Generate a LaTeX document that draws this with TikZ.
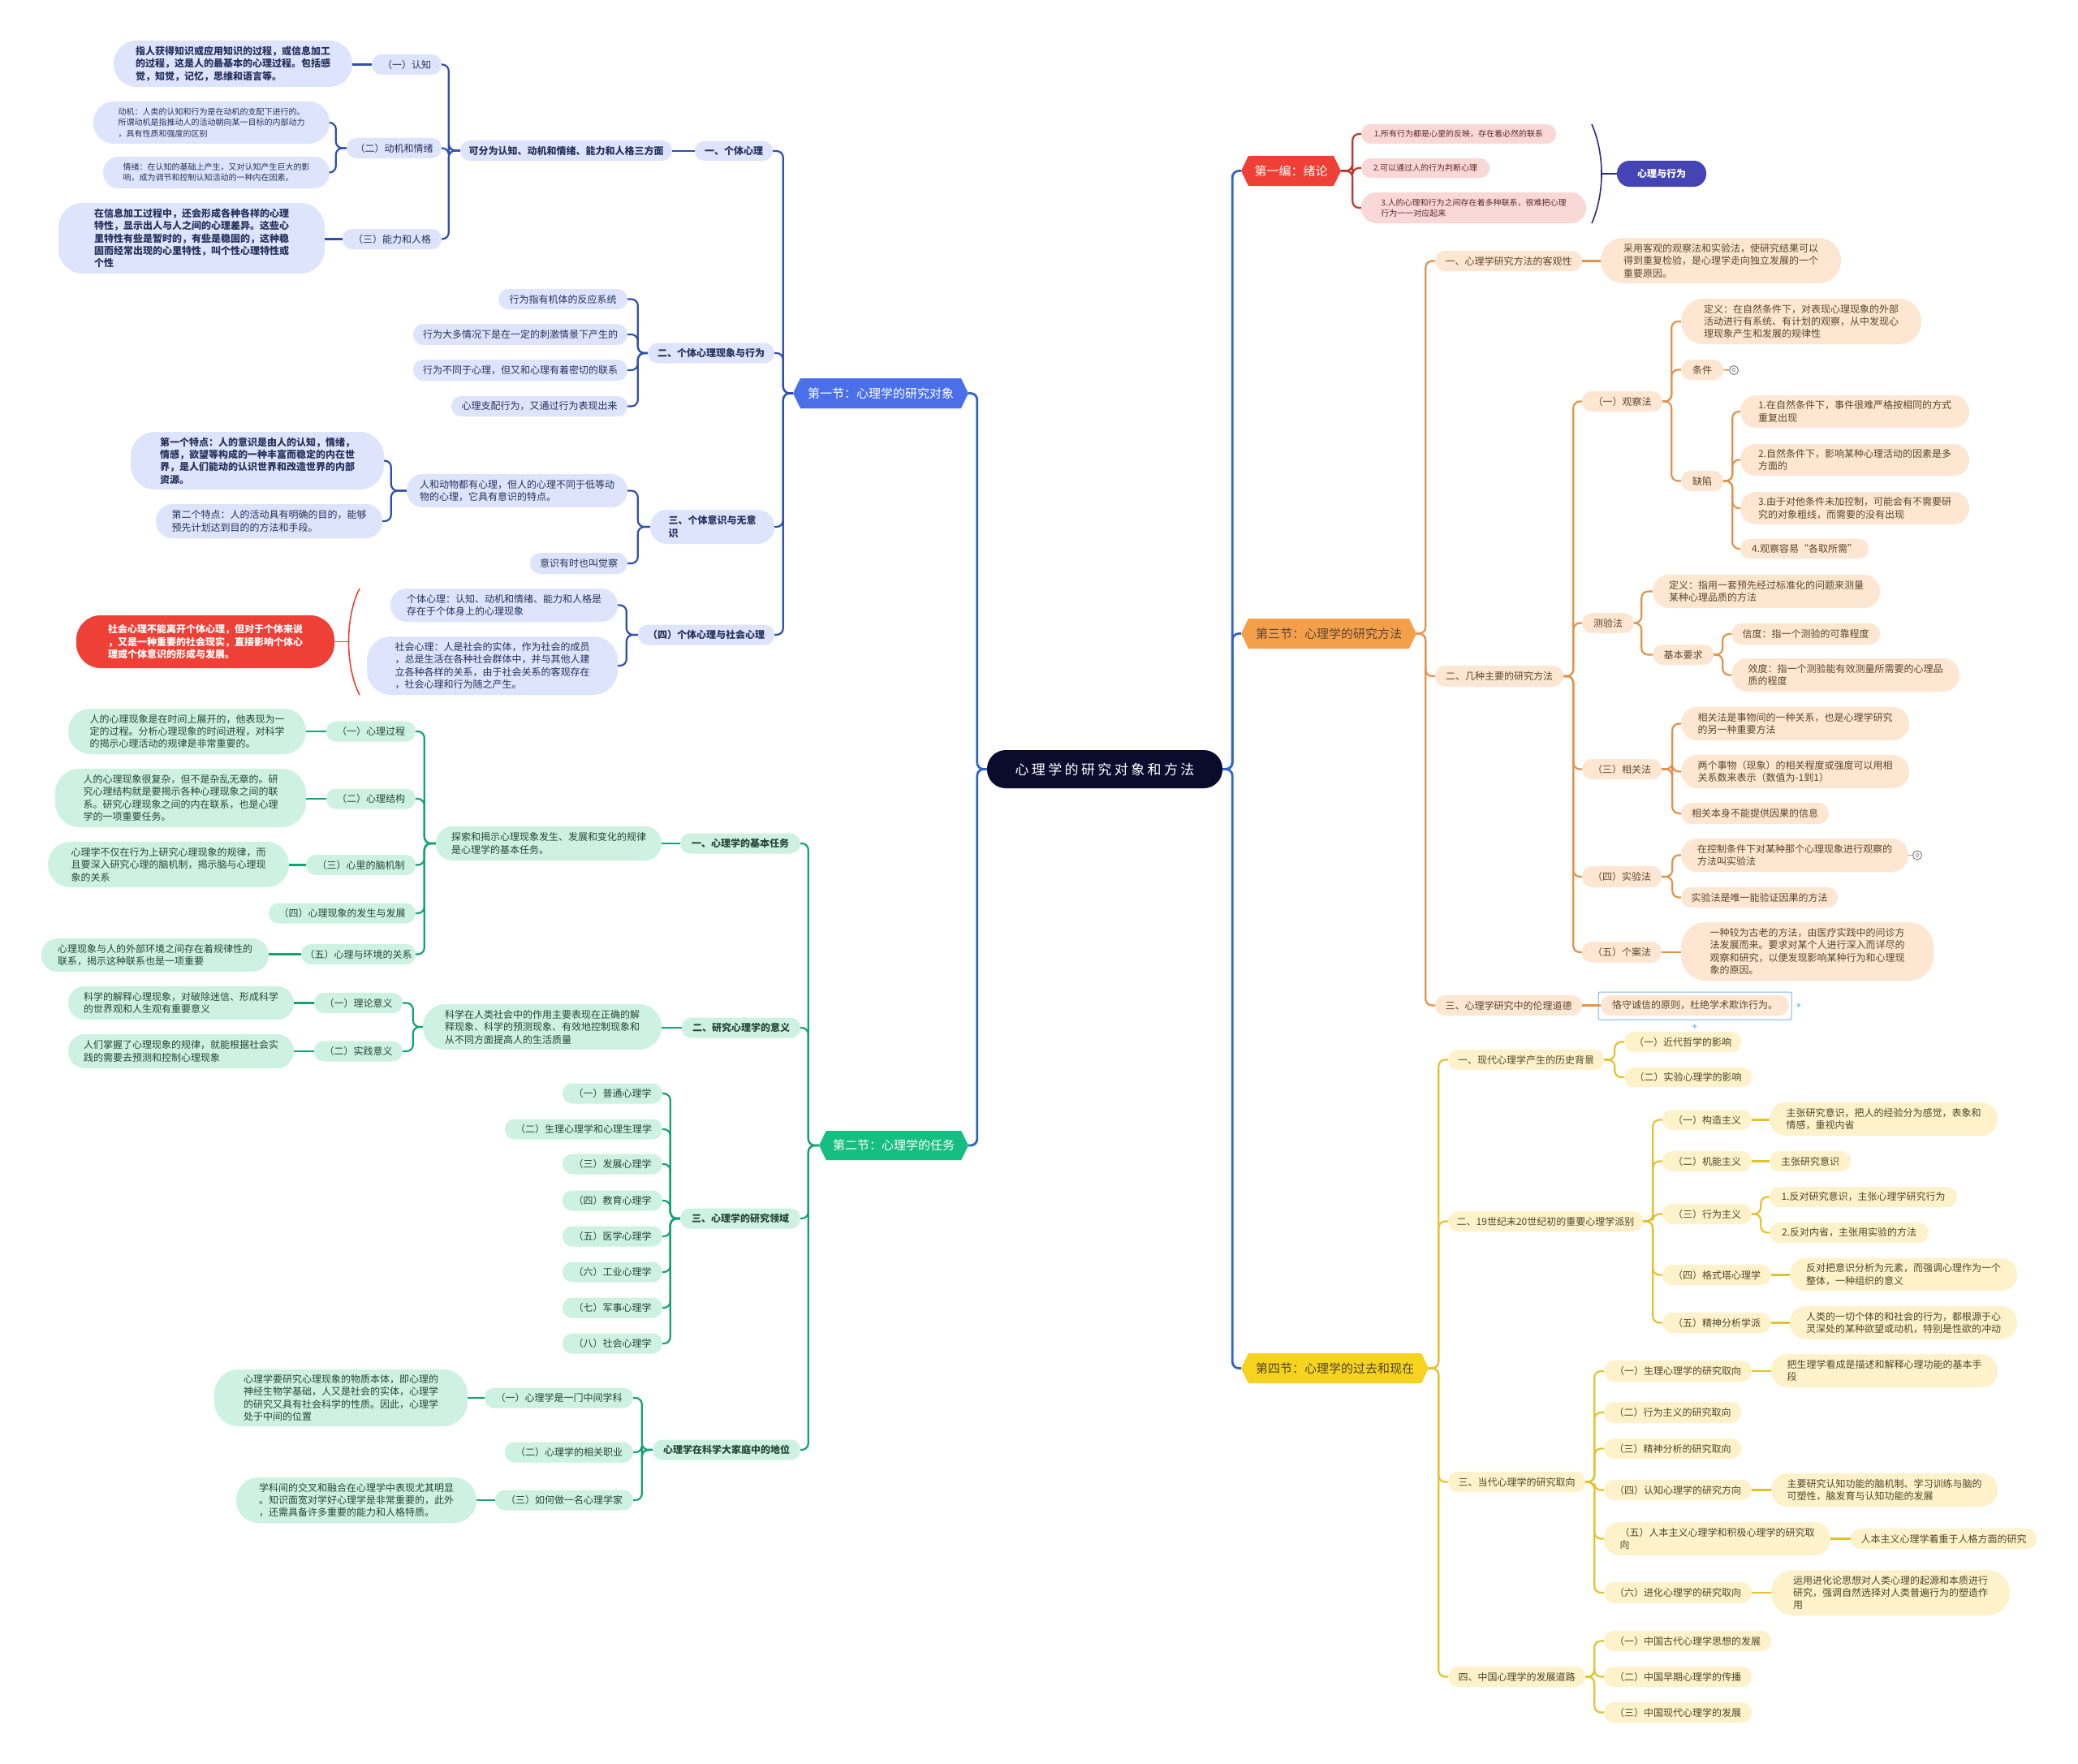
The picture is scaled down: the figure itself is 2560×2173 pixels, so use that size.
\documentclass[tikz,border=0pt]{standalone}
\usepackage{fontspec}
\setmainfont{Noto Sans CJK SC}
\usetikzlibrary{shapes.symbols}
\definecolor{rootC}{HTML}{0B0B2E}
\definecolor{rootLn}{HTML}{2F64C9}
\definecolor{blueH}{HTML}{4B6FE8}
\definecolor{blueL}{HTML}{DDE4FB}
\definecolor{blueLn}{HTML}{2E4FAE}
\definecolor{blueT}{HTML}{26325E}
\definecolor{greenH}{HTML}{17BE83}
\definecolor{greenL}{HTML}{CDF1E2}
\definecolor{greenLn}{HTML}{16A273}
\definecolor{greenT}{HTML}{24473A}
\definecolor{orangeH}{HTML}{F4A04B}
\definecolor{orangeL}{HTML}{FDE7D3}
\definecolor{orangeLn}{HTML}{E3924A}
\definecolor{orangeT}{HTML}{5C4530}
\definecolor{yellowH}{HTML}{F6D31E}
\definecolor{yellowL}{HTML}{FDF2C9}
\definecolor{yellowLn}{HTML}{E6C22A}
\definecolor{yellowT}{HTML}{50472A}
\definecolor{redH}{HTML}{EE4036}
\definecolor{redL}{HTML}{FBD8D8}
\definecolor{redLn}{HTML}{B83A2E}
\definecolor{redT}{HTML}{5A2A2A}
\definecolor{indigoC}{HTML}{4444B4}
\definecolor{braceC}{HTML}{2A2A7A}
\definecolor{selC}{HTML}{7FB8E0}
\newcommand\fA{\fontsize{12}{15.4}\selectfont}
\newcommand\fB{\fontsize{10}{13.4}\selectfont}
\newcommand\fH{\fontsize{15}{18}\selectfont}
\newcommand\fR{\fontsize{17}{20}\selectfont\addfontfeatures{LetterSpace=20}}
\newcommand\nd[7][]{\pgfmathsetmacro\rr{min(#6/2-0.5,30)}\node[#2,minimum width=#5,minimum height=#6,rounded corners=\rr,#1] (#3) at (#4) {#7};}
\newcommand\conL[4]{\draw[#1] (#2.west) -- ++(-#3,0) |- (#4.east);}
\newcommand\conR[4]{\draw[#1] (#2.east) -- ++(#3,0) |- (#4.west);}
\newcommand\dirL[3]{\draw[#1] (#2.west) -- (#3.east |- #2.west);}
\newcommand\dirR[3]{\draw[#1] (#2.east) -- (#3.west |- #2.east);}
\tikzset{
  base/.style={align=left, inner sep=3},
  bB/.style={base, fill=blueL, text=blueT, font=\fA\bfseries},
  bR/.style={base, fill=blueL, text=blueT, font=\fA},
  bS/.style={base, fill=blueL, text=blueT, font=\fB},
  gB/.style={base, fill=greenL, text=greenT, font=\fA\bfseries},
  gR/.style={base, fill=greenL, text=greenT, font=\fA},
  oR/.style={base, fill=orangeL, text=orangeT, font=\fA},
  yR/.style={base, fill=yellowL, text=yellowT, font=\fA},
  rS/.style={base, fill=redL, text=redT, font=\fB},
  redBox/.style={base, fill=redH, text=white, font=\fA\bfseries},
  indBox/.style={base, fill=indigoC, text=white, font=\fA\bfseries},
  hdr/.style={signal, signal to=west and east, signal pointer angle=128, inner sep=2, font=\fH},
  ln/.style={line width=2.2, rounded corners=8},
  lnRoot/.style={ln, line width=2.8, draw=rootLn},
  bLn/.style={ln, draw=blueLn},
  gLn/.style={ln, draw=greenLn},
  oLn/.style={ln, draw=orangeLn},
  yLn/.style={ln, draw=yellowLn},
  rLn/.style={ln, draw=redLn},
  marker/.style={circle, draw=black!60, line width=0.8, inner sep=0.5, minimum size=11, font=\fontsize{7}{8}\selectfont, text=black!70}
}
\begin{document}
\begin{tikzpicture}[x=1pt,y=-1pt]
\useasboundingbox[fill=white] (0,0) rectangle (2560,2173);

% ---------- root and sections ----------
\node[fill=rootC, rounded corners=23, minimum width=290, minimum height=47, text=white, font=\fR, inner sep=2] (root) at (1361,947.5) {心理学的研究对象和方法};
\node[hdr, fill=blueH, text=white, minimum width=216, minimum height=37] (s1) at (1085,484.5) {第一节：心理学的研究对象};
\node[hdr, fill=greenH, text=white, minimum width=184, minimum height=36] (s2) at (1101,1411) {第二节：心理学的任务};
\node[hdr, fill=redH, text=white, minimum width=123, minimum height=37] (e1) at (1590.5,210.5) {第一编：绪论};
\node[hdr, fill=orangeH, text=orangeT, minimum width=216, minimum height=37] (s3) at (1637,780.5) {第三节：心理学的研究方法};
\node[hdr, fill=yellowH, text=yellowT, minimum width=231, minimum height=37] (s4) at (1644.5,1685.5) {第四节：心理学的过去和现在};

% ---------- section 1 (blue) ----------
\nd{bB}{a1}{904,186}{96}{24}{一、个体心理}
\nd{bB}{a2}{876,435}{156}{25}{二、个体心理现象与行为}
\nd{bB}{a3}{877.5,649}{153}{42}{三、个体意识与无意\\识}
\nd{bB}{a4}{870,782}{168}{25}{（四）个体心理与社会心理}
\nd{bB}{b1}{697.5,185.5}{261}{25}{可分为认知、动机和情绪、能力和人格三方面}
\nd{bR}{c1}{501,79.5}{86}{25}{（一）认知}
\nd{bR}{c2}{485.5,182.5}{117}{25}{（二）动机和情绪}
\nd{bR}{c3}{483,294.5}{122}{25}{（三）能力和人格}
\nd{bB}{d1}{287,78.5}{294}{57}{指人获得知识或应用知识的过程，或信息加工\\的过程，这是人的最基本的心理过程。包括感\\觉，知觉，记忆，思维和语言等。}
\nd{bS}{d2}{260.5,151}{291}{52}{动机：人类的认知和行为是在动机的支配下进行的。\\所谓动机是指推动人的活动朝向某一目标的内部动力\\，具有性质和强度的区别}
\nd{bS}{d3}{266.5,212.5}{279}{39}{情绪：在认知的基础上产生，又对认知产生巨大的影\\响，成为调节和控制认知活动的一种内在因素。}
\nd{bB}{d4}{236,293.5}{328}{87}{在信息加工过程中，还会形成各种各样的心理\\特性，显示出人与人之间的心理差异。这些心\\里特性有些是暂时的，有些是稳固的，这种稳\\固而经常出现的心里特性，叫个性心理特性或\\个性}
\nd{bR}{be1}{693.5,368.5}{159}{25}{行为指有机体的反应系统}
\nd{bR}{be2}{641,412}{264}{26}{行为大多情况下是在一定的刺激情景下产生的}
\nd{bR}{be3}{641,456}{264}{26}{行为不同于心理，但又和心理有着密切的联系}
\nd{bR}{be4}{664.5,500.5}{217}{25}{心理支配行为，又通过行为表现出来}
\nd{bR}{f1}{637,604.5}{272}{41}{人和动物都有心理，但人的心理不同于低等动\\物的心理，它具有意识的特点。}
\nd{bR}{f2}{713,694}{120}{26}{意识有时也叫觉察}
\nd{bB}{g1}{317,567.5}{312}{71}{第一个特点：人的意识是由人的认知，情绪，\\情感，欲望等构成的一种丰富而稳定的内在世\\界，是人们能动的认识世界和改造世界的内部\\资源。}
\nd{bR}{g2}{331.5,642}{279}{42}{第二个特点：人的活动具有明确的目的，能够\\预先计划达到目的的方法和手段。}
\nd{bR}{h1}{621,745.5}{280}{41}{个体心理：认知、动机和情绪、能力和人格是\\存在于个体身上的心理现象}
\nd{bR}{h2}{606.5,820}{309}{72}{社会心理：人是社会的实体，作为社会的成员\\，总是生活在各种社会群体中，并与其他人建\\立各种各样的关系，由于社会关系的客观存在\\，社会心理和行为随之产生。}
\nd{redBox}{r1}{253,790.5}{318}{65}{社会心理不能离开个体心理，但对于个体来说\\，又是一种重要的社会现实，直接影响个体心\\理或个体意识的形成与发展。}

% ---------- section 2 (green) ----------
\nd{gB}{k1}{912,1039}{148}{25}{一、心理学的基本任务}
\nd{gB}{k2}{913,1266}{146}{25}{二、研究心理学的意义}
\nd{gB}{k3}{912,1501}{148}{25}{三、心理学的研究领域}
\nd{gB}{k4}{895,1786}{182}{25}{心理学在科学大家庭中的地位}
\nd{gR}{m1}{676,1039}{278}{42}{探索和揭示心理现象发生、发展和变化的规律\\是心理学的基本任务。}
\nd{gR}{n1}{457,901}{110}{25}{（一）心理过程}
\nd{gR}{n2}{457,984}{110}{25}{（二）心理结构}
\nd{gR}{n3}{444.5,1065.5}{135}{25}{（三）心里的脑机制}
\nd{gR}{n4}{421.5,1125}{181}{25}{（四）心理现象的发生与发展}
\nd{gR}{n5}{441.5,1175.5}{141}{25}{（五）心理与环境的关系}
\nd{gR}{o1}{230.5,901}{293}{56}{人的心理现象是在时间上展开的，他表现为一\\定的过程。分析心理现象的时间进程，对科学\\的揭示心理活动的规律是非常重要的。}
\nd{gR}{o2}{222.5,983}{309}{72}{人的心理现象很复杂，但不是杂乱无章的。研\\究心理结构就是要揭示各种心理现象之间的联\\系。研究心理现象之间的内在联系，也是心理\\学的一项重要任务。}
\nd{gR}{o3}{207.5,1065}{297}{56}{心理学不仅在行为上研究心理现象的规律，而\\且要深入研究心理的脑机制，揭示脑与心理现\\象的关系}
\nd{gR}{o5}{191,1176.5}{280}{41}{心理现象与人的外部环境之间存在着规律性的\\联系，揭示这种联系也是一项重要}
\nd{gR}{m2}{668,1265}{294}{56}{科学在人类社会中的作用主要表现在正确的解\\释现象、科学的预测现象、有效地控制现象和\\从不同方面提高人的生活质量}
\nd{gR}{p1}{441.5,1235.5}{109}{25}{（一）理论意义}
\nd{gR}{p2}{441.5,1295}{109}{25}{（二）实践意义}
\nd{gR}{q1}{223,1235.5}{278}{41}{科学的解释心理现象，对破除迷信、形成科学\\的世界观和人生观有重要意义}
\nd{gR}{q2}{223,1295}{278}{42}{人们掌握了心理现象的规律，就能根据社会实\\践的需要去预测和控制心理现象}
\nd{gR}{gr1}{754.5,1347}{123}{25}{（一）普通心理学}
\nd{gR}{gr2}{719,1391}{194}{25}{（二）生理心理学和心理生理学}
\nd{gR}{gr3}{754.5,1434}{123}{25}{（三）发展心理学}
\nd{gR}{gr4}{754.5,1479}{123}{25}{（四）教育心理学}
\nd{gR}{gr5}{754.5,1523}{123}{25}{（五）医学心理学}
\nd{gR}{gr6}{754.5,1567}{123}{25}{（六）工业心理学}
\nd{gR}{gr7}{754.5,1611}{123}{25}{（七）军事心理学}
\nd{gR}{gr8}{754.5,1655}{123}{25}{（八）社会心理学}
\nd{gR}{t1}{688.5,1722}{183}{25}{（一）心理学是一门中间学科}
\nd{gR}{t2}{701,1789}{158}{25}{（二）心理学的相关职业}
\nd{gR}{t3}{695,1848}{170}{25}{（三）如何做一名心理学家}
\nd{gR}{u1}{420,1722}{312}{70}{心理学要研究心理现象的物质本体，即心理的\\神经生物学基础，人又是社会的实体，心理学\\的研究又具有社会科学的性质。因此，心理学\\处于中间的位置}
\nd{gR}{u3}{439,1848}{296}{56}{学科间的交叉和融合在心理学中表现尤其明显\\。知识面宽对学好心理学是非常重要的，此外\\，还需具备许多重要的能力和人格特质。}

% ---------- 第一编 (red) ----------
\nd{rS}{v1}{1797,165}{240}{24}{1.所有行为都是心里的反映，存在着必然的联系}
\nd{rS}{v2}{1756,207}{158}{24}{2.可以通过人的行为判断心理}
\nd{rS}{v3}{1815.5,256}{277}{38}{3.人的心理和行为之间存在着多种联系，很难把心理\\行为一一对应起来}
\nd{indBox}{w1}{2047,214}{110}{32}{心理与行为}

% ---------- section 3 (orange) ----------
\nd{oR}{x1}{1858.5,321.5}{181}{25}{一、心理学研究方法的客观性}
\nd{oR}{x2}{1847,833}{158}{26}{二、几种主要的研究方法}
\nd{oR}{x3}{1858.5,1238.5}{181}{25}{三、心理学研究中的伦理道德}
\nd{oR}{y1}{2120,321}{296}{56}{采用客观的观察法和实验法，使研究结果可以\\得到重复检验，是心理学走向独立发展的一个\\重要原因。}
\nd{oR}{y3}{2088,1238.5}{232}{25}{恪守诚信的原则，杜绝学术欺诈行为。}
\nd{oR}{z1}{1998.5,494.5}{99}{25}{（一）观察法}
\nd{oR}{z2}{1981,767.5}{64}{25}{测验法}
\nd{oR}{z3}{1998,947.5}{98}{25}{（三）相关法}
\nd{oR}{z4}{1998,1080}{98}{26}{（四）实验法}
\nd{oR}{z5}{1998,1173}{98}{26}{（五）个案法}
\nd{oR}{aa1}{2219,396}{296}{56}{定义：在自然条件下，对表现心理现象的外部\\活动进行有系统、有计划的观察，从中发现心\\理现象产生和发展的规律性}
\nd{oR}{aa2}{2097,455.5}{52}{25}{条件}
\nd{oR}{aa3}{2097,592.5}{52}{25}{缺陷}
\nd{oR}{bb1}{2285,507}{282}{40}{1.在自然条件下，事件很难严格按相同的方式\\重复出现}
\nd{oR}{bb2}{2285,566.5}{282}{39}{2.自然条件下，影响某种心理活动的因素是多\\方面的}
\nd{oR}{bb3}{2285,626}{282}{40}{3.由于对他条件未加控制，可能会有不需要研\\究的对象粗线，而需要的没有出现}
\nd{oR}{bb4}{2223,676}{158}{24}{4.观察容易“各取所需”}
\nd{oR}{cc1}{2176,728.5}{280}{41}{定义：指用一套预先经过标准化的问题来测量\\某种心理品质的方法}
\nd{oR}{cc2}{2073.5,806.5}{75}{25}{基本要求}
\nd{oR}{dd1}{2224.5,781}{183}{26}{信度：指一个测验的可靠程度}
\nd{oR}{dd2}{2273.5,831.5}{281}{41}{效度：指一个测验能有效测量所需要的心理品\\质的程度}
\nd{oR}{ee1}{2211.5,891.5}{281}{41}{相关法是事物间的一种关系，也是心理学研究\\的另一种重要方法}
\nd{oR}{ee2}{2211.5,950.5}{281}{41}{两个事物（现象）的相关程度或强度可以用相\\关系数来表示（数值为-1到1）}
\nd{oR}{ee3}{2162,1002}{182}{26}{相关本身不能提供因果的信息}
\nd{oR}{ff1}{2211,1053.5}{280}{41}{在控制条件下对某种那个心理现象进行观察的\\方法叫实验法}
\nd{oR}{ff2}{2167.5,1105.5}{193}{25}{实验法是唯一能验证因果的方法}
\nd{oR}{gg1}{2226.5,1172}{311}{72}{一种较为古老的方法，由医疗实践中的问诊方\\法发展而来。要求对某个人进行深入而详尽的\\观察和研究，以便发现影响某种行为和心理现\\象的原因。}
\node[marker] (mk1) at (2136,456) {0};
\node[marker] (mk2) at (2362,1053.5) {0};

% ---------- section 4 (yellow) ----------
\nd{yR}{hh1}{1880,1305.5}{192}{25}{一、现代心理学产生的历史背景}
\nd{yR}{hh2}{1904,1504.5}{240}{25}{二、19世纪末20世纪初的重要心理学派别}
\nd{yR}{hh3}{1868.5,1825.5}{169}{25}{三、当代心理学的研究取向}
\nd{yR}{hh4}{1868.5,2065.5}{169}{25}{四、中国心理学的发展道路}
\nd{yR}{ii1}{2073,1283.5}{144}{25}{（一）近代哲学的影响}
\nd{yR}{ii2}{2079.5,1327}{157}{24}{（二）实验心理学的影响}
\nd{yR}{jj1}{2103,1379.5}{110}{25}{（一）构造主义}
\nd{yR}{jj2}{2103,1430.5}{110}{25}{（二）机能主义}
\nd{yR}{jj3}{2103,1495.5}{110}{25}{（三）行为主义}
\nd{yR}{jj4}{2115,1570.5}{134}{25}{（四）格式塔心理学}
\nd{yR}{jj5}{2115,1629.5}{134}{25}{（五）精神分析学派}
\nd{yR}{kk1}{2320.5,1378.5}{281}{41}{主张研究意识，把人的经验分为感觉，表象和\\情感，重视内省}
\nd{yR}{kk2}{2230,1430.5}{100}{25}{主张研究意识}
\nd{yR}{kk3a}{2295.5,1474.5}{231}{25}{1.反对研究意识，主张心理学研究行为}
\nd{yR}{kk3b}{2278,1518.5}{196}{25}{2.反对内省，主张用实验的方法}
\nd{yR}{kk4}{2345,1570}{280}{40}{反对把意识分析为元素，而强调心理作为一个\\整体，一种组织的意义}
\nd{yR}{kk5}{2345,1629.5}{280}{41}{人类的一切个体的和社会的行为，都根源于心\\灵深处的某种欲望或动机，特别是性欲的冲动}
\nd{yR}{ll1}{2067,1689}{182}{26}{（一）生理心理学的研究取向}
\nd{yR}{ll2}{2060.5,1740}{169}{26}{（二）行为主义的研究取向}
\nd{yR}{ll3}{2060.5,1784.5}{169}{25}{（三）精神分析的研究取向}
\nd{yR}{ll4}{2067,1835.5}{182}{25}{（四）认知心理学的研究方向}
\nd{yR}{ll5}{2115.5,1895.5}{279}{41}{（五）人本主义心理学和积极心理学的研究取\\向}
\nd{yR}{ll6}{2067,1962}{182}{26}{（六）进化心理学的研究取向}
\nd{yR}{mm1}{2321.5,1688.5}{279}{41}{把生理学看成是描述和解释心理功能的基本手\\段}
\nd{yR}{mm4}{2321.5,1835.5}{279}{41}{主要研究认知功能的脑机制、学习训练与脑的\\可塑性，脑发育与认知功能的发展}
\nd{yR}{mm5}{2394.5,1895.5}{229}{25}{人本主义心理学着重于人格方面的研究}
\nd{yR}{mm6}{2329,1962}{294}{56}{运用进化论思想对人类心理的起源和本质进行\\研究，强调自然选择对人类普遍行为的塑造作\\用}
\nd{yR}{nn1}{2079,2021.5}{206}{25}{（一）中国古代心理学思想的发展}
\nd{yR}{nn2}{2067,2065.5}{182}{25}{（二）中国早期心理学的传播}
\nd{yR}{nn3}{2067,2109.5}{182}{25}{（三）中国现代心理学的发展}

% ---------- connectors ----------
\conL{lnRoot}{root}{12}{s1}
\conL{lnRoot}{root}{12}{s2}
\conR{lnRoot}{root}{12}{e1}
\conR{lnRoot}{root}{12}{s3}
\conR{lnRoot}{root}{12}{s4}

\foreach \c in {a1,a2,a3,a4} {\conL{bLn}{s1}{12}{\c}}
\dirL{bLn}{a1}{b1}
\foreach \c in {c1,c2,c3} {\conL{bLn}{b1}{14}{\c}}
\dirL{bLn}{c1}{d1}
\foreach \c in {d2,d3} {\conL{bLn}{c2}{13}{\c}}
\dirL{bLn}{c3}{d4}
\foreach \c in {be1,be2,be3,be4} {\conL{bLn}{a2}{12}{\c}}
\foreach \c in {f1,f2} {\conL{bLn}{a3}{15}{\c}}
\foreach \c in {g1,g2} {\conL{bLn}{f1}{19}{\c}}
\foreach \c in {h1,h2} {\conL{bLn}{a4}{14}{\c}}
\coordinate (rbm) at (429.5,790.5);
\draw[redH, line width=1.6] (443,725) .. controls (425,760) and (425,821) .. (443,856);
\draw[redH, line width=1.6] (rbm) -- (r1.east);

\foreach \c in {k1,k2,k3,k4} {\conL{gLn}{s2}{13}{\c}}
\dirL{gLn}{k1}{m1}
\foreach \c in {n1,n2,n3,n4,n5} {\conL{gLn}{m1}{14}{\c}}
\dirL{gLn}{n1}{o1}
\dirL{gLn}{n2}{o2}
\dirL{gLn}{n3}{o3}
\dirL{gLn}{n5}{o5}
\dirL{gLn}{k2}{m2}
\foreach \c in {p1,p2} {\conL{gLn}{m2}{12}{\c}}
\dirL{gLn}{p1}{q1}
\dirL{gLn}{p2}{q2}
\foreach \c in {gr1,gr2,gr3,gr4,gr5,gr6,gr7,gr8} {\conL{gLn}{k3}{12}{\c}}
\foreach \c in {t1,t2,t3} {\conL{gLn}{k4}{13}{\c}}
\dirL{gLn}{t1}{u1}
\dirL{gLn}{t3}{u3}

\foreach \c in {v1,v2,v3} {\conR{rLn}{e1}{14}{\c}}
\coordinate (bcm) at (1973,214);
\draw[braceC, line width=1.6] (1961,153) .. controls (1977,190) and (1977,238) .. (1961,275);
\draw[braceC, line width=1.6] (bcm) -- (w1.west);

\foreach \c in {x1,x2,x3} {\conR{oLn}{s3}{11}{\c}}
\dirR{oLn}{x1}{y1}
\dirR{oLn}{x3}{y3}
\foreach \c in {z1,z2,z3,z4,z5} {\conR{oLn}{x2}{12}{\c}}
\foreach \c in {aa1,aa2,aa3} {\conR{oLn}{z1}{11}{\c}}
\draw[oLn, line width=1.5] (aa2.east) -- (mk1.west);
\foreach \c in {bb1,bb2,bb3,bb4} {\conR{oLn}{aa3}{11}{\c}}
\foreach \c in {cc1,cc2} {\conR{oLn}{z2}{9}{\c}}
\foreach \c in {dd1,dd2} {\conR{oLn}{cc2}{11}{\c}}
\foreach \c in {ee1,ee2,ee3} {\conR{oLn}{z3}{13}{\c}}
\foreach \c in {ff1,ff2} {\conR{oLn}{z4}{13}{\c}}
\draw[oLn, line width=1.5] (ff1.east) -- (mk2.west);
\dirR{oLn}{z5}{gg1}

\foreach \c in {hh1,hh2,hh3,hh4} {\conR{yLn}{s4}{12}{\c}}
\foreach \c in {ii1,ii2} {\conR{yLn}{hh1}{13}{\c}}
\foreach \c in {jj1,jj2,jj3,jj4,jj5} {\conR{yLn}{hh2}{12}{\c}}
\dirR{yLn}{jj1}{kk1}
\dirR{yLn}{jj2}{kk2}
\dirR{yLn}{jj4}{kk4}
\dirR{yLn}{jj5}{kk5}
\foreach \c in {kk3a,kk3b} {\conR{yLn}{jj3}{11}{\c}}
\foreach \c in {ll1,ll2,ll3,ll4,ll5,ll6} {\conR{yLn}{hh3}{11}{\c}}
\dirR{yLn}{ll1}{mm1}
\dirR{yLn}{ll4}{mm4}
\dirR{yLn}{ll5}{mm5}
\dirR{yLn}{ll6}{mm6}
\foreach \c in {nn1,nn2,nn3} {\conR{yLn}{hh4}{11}{\c}}

% selection frame around the ethics node
\draw[selC, line width=1, rounded corners=2] (1969,1222) rectangle (2207,1256);
\node[text=selC, font=\fB\bfseries, inner sep=0] (pl1) at (2216,1239) {+};
\node[text=selC, font=\fB\bfseries, inner sep=0] (pl2) at (2088,1265) {+};
\end{tikzpicture}
\end{document}
